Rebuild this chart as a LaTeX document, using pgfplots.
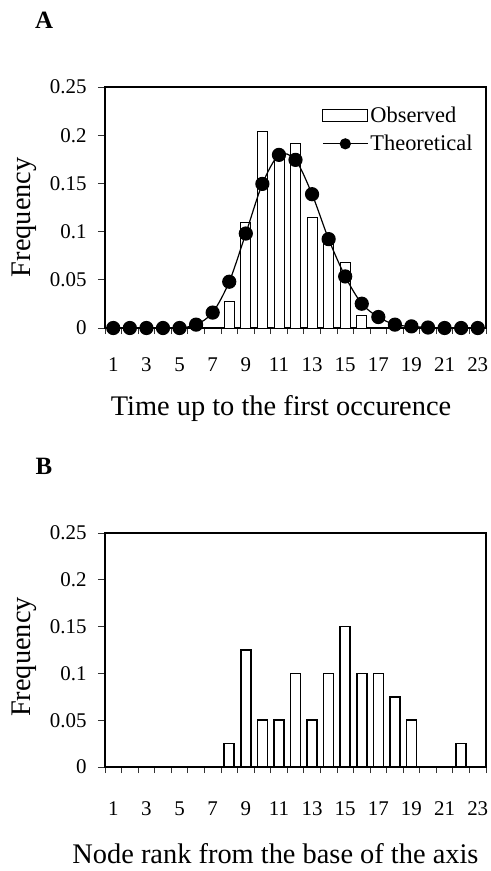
\documentclass[border=0pt]{standalone}
\usepackage{pgfplots}
\pgfplotsset{compat=1.18}
\usepackage{fontspec}
\setmainfont{Liberation Serif}
\newcommand\mytickfont{\fontsize{21}{23}\selectfont}
\newcommand\mylabfont{\fontsize{28.5}{30}\selectfont}
\newcommand\mylegfont{\fontsize{22.5}{24}\selectfont}
\pgfplotsset{
  obslegend/.style={legend image code/.code={\draw[##1] (0bp,-6bp) rectangle (45bp,6bp);}},
  theolegend/.style={legend image code/.code={\draw[mark repeat=2, mark phase=2, mark size=5bp, ##1] plot coordinates {(0bp,0bp) (22.5bp,0bp) (45bp,0bp)};}},
  myaxis/.style={
    scale only axis, width=381bp, anchor=south west, clip=false,
    xmin=0.5, xmax=23.5, ymin=0, ymax=0.25,
    axis line style={line width=1.2bp},
    xtick={1,3,...,23}, xticklabels={1,3,5,7,9,11,13,15,17,19,21,23},
    minor xtick={0.5,1.5,...,23.5},
    major x tick style={draw=none},
    minor x tick style={line width=0.8bp, black!80},
    minor tick length=6bp,
    ytick={0,0.05,0.1,0.15,0.2,0.25},
    yticklabels={0,0.05,0.1,0.15,0.2,0.25},
    major y tick style={line width=0.8bp, black!80},
    major tick length=7bp,
    tick align=outside, xtick pos=bottom, ytick pos=left,
    xticklabel style={font=\mytickfont, anchor=center},
    yticklabel style={font=\mytickfont, anchor=east, xshift=-8bp},
    xlabel style={font=\mylabfont, inner sep=0pt},
    ylabel style={font=\mylabfont, inner sep=0pt},
  }
}
\begin{document}
\begin{tikzpicture}
\path[use as bounding box] (0bp,0bp) rectangle (491bp,-871bp);
\node[font=\fontsize{25}{25}\bfseries\selectfont] at (44bp,-20.5bp) {A};
\node[font=\fontsize{25}{25}\bfseries\selectfont] at (44bp,-466bp) {B};

\begin{axis}[myaxis, at={(105bp,-328bp)}, height=241bp,
  xticklabel style={yshift=-30bp},
  xlabel={Time up to the first occurence},
  xlabel style={at={(axis description cs:0.462,-0.335)}, anchor=center},
  ylabel={Frequency},
  ylabel style={at={(axis description cs:-0.2126,0.46)}, anchor=center},
  legend cell align=left,
  legend style={draw=none, fill=none, font=\mylegfont, inner sep=0pt,
    at={(0.5696,0.925)}, anchor=north west, row sep=7bp,
    /tikz/every even column/.append style={column sep=3bp}},
]
\addplot[ybar, bar width=10bp, draw=black, fill=white, line width=0.8bp, obslegend]
  coordinates {(8,0.028) (9,0.110) (10,0.204) (11,0.177) (12,0.191)
               (13,0.115) (14,0.090) (15,0.068) (16,0.013)};
\addlegendentry{Observed}
\addplot[black, line width=1.2bp, smooth, mark=*, mark size=6.5bp,
  mark options={solid, fill=black}, theolegend]
  coordinates {(1,0) (2,0) (3,0) (4,0) (5,0) (6,0.0035) (7,0.016) (8,0.048)
               (9,0.098) (10,0.1495) (11,0.1796) (12,0.1744) (13,0.1388)
               (14,0.0922) (15,0.0535) (16,0.0252) (17,0.0114) (18,0.0035)
               (19,0.0017) (20,0.0005) (21,0) (22,0) (23,0)};
\addlegendentry{Theoretical}
\end{axis}

\begin{axis}[myaxis, at={(105bp,-767bp)}, height=234bp,
  xticklabel style={yshift=-35bp},
  xlabel={Node rank from the base of the axis},
  xlabel style={at={(axis description cs:0.4475,-0.372)}, anchor=center},
  ylabel={Frequency},
  ylabel style={at={(axis description cs:-0.2126,0.47)}, anchor=center},
]
\addplot[ybar, bar width=10bp, draw=black, fill=white, line width=1.6bp]
  coordinates {(8,0.025) (9,0.125) (10,0.05) (11,0.05) (12,0.1) (13,0.05)
               (14,0.1) (15,0.15) (16,0.1) (17,0.1) (18,0.075) (19,0.05)
               (22,0.025)};
\end{axis}
\end{tikzpicture}
\end{document}
